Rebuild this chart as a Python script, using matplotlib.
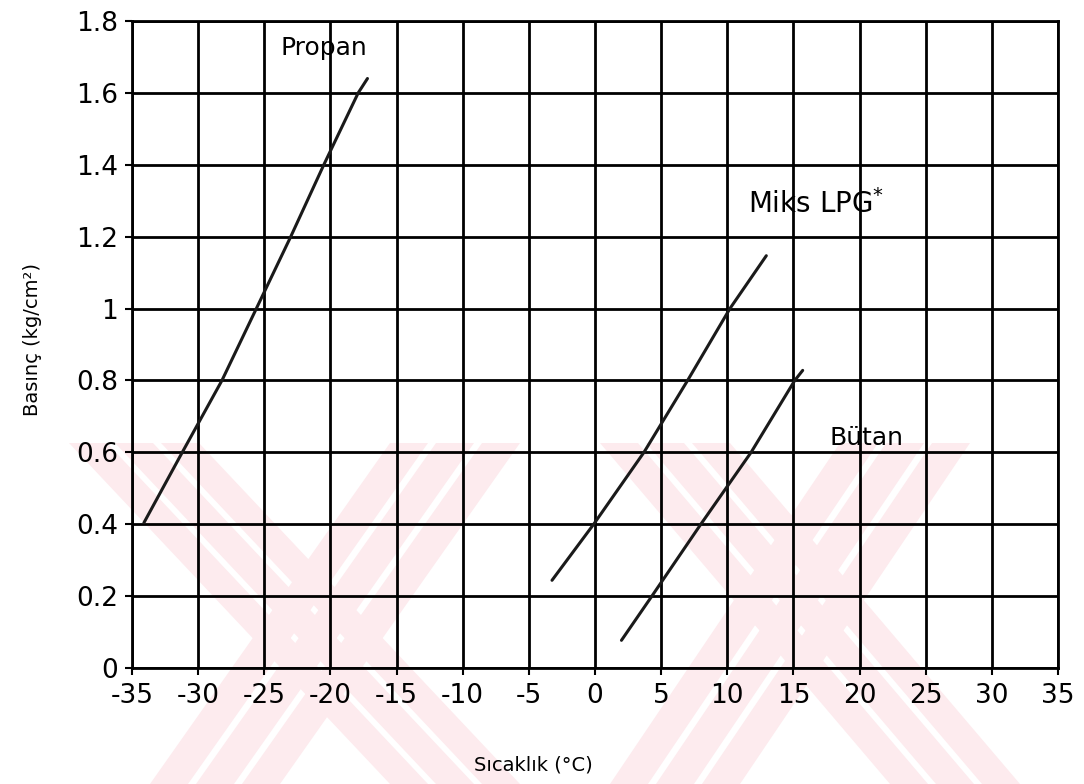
import matplotlib
matplotlib.use("Agg")
import matplotlib.pyplot as plt
from matplotlib.patches import Polygon

plt.rcParams['font.family'] = ['DejaVu Sans']
plt.rcParams['axes.unicode_minus'] = False

# sıcaklık (°C) - basınç (kg/cm2) okunan noktalar
propan_t = [-34.1, -31.2, -28.2, -25.6, -23.0, -20.5, -17.9, -17.2]
propan_p = [0.404, 0.60, 0.80, 1.00, 1.20, 1.40, 1.60, 1.64]

miks_t = [-3.25, -0.1, 3.7, 7.0, 10.2, 12.95]
miks_p = [0.244, 0.40, 0.60, 0.80, 1.00, 1.147]

butan_t = [2.0, 4.3, 8.0, 11.8, 15.1, 15.7]
butan_p = [0.077, 0.20, 0.40, 0.60, 0.80, 0.828]

x_ticks = list(range(-35, 36, 5))
x_labels = ['-35', '-30', '-25', '-20', '-15', '-10', '-5', '0', '5', '10', '15', '20', '25', '30', '35']
y_ticks = [0, 0.2, 0.4, 0.6, 0.8, 1.0, 1.2, 1.4, 1.6, 1.8]
y_labels = ['0', '0.2', '0.4', '0.6', '0.8', '1', '1.2', '1.4', '1.6', '1.8']

W, H = 1084, 784
fig = plt.figure(figsize=(W / 100, H / 100), dpi=100)

# soluk pembe filigran (piksel koordinatlari -> figur)
def band(x_top, x_bot, width):
    y0, y1 = 443, 784
    pts = [(x_top, y0), (x_top + width, y0), (x_bot + width, y1), (x_bot, y1)]
    return [(px / W, 1 - py / H) for px, py in pts]

pink = '#fdebee'
strokes = [(69, 390), (390, 150), (600, 890), (840, 610)]
for xt, xb in strokes:
    for k in range(3):
        off = k * 46
        fig.add_artist(Polygon(band(xt + off, xb + off, 38), closed=True,
                               transform=fig.transFigure, facecolor=pink,
                               edgecolor='none', zorder=0))

ax = fig.add_axes([132 / W, 1 - 668 / H, 926 / W, 647 / H])
ax.patch.set_alpha(0)

ax.plot(propan_t, propan_p, color='#1a1a1a', lw=2.2, solid_capstyle='round')
ax.plot(miks_t, miks_p, color='#1a1a1a', lw=2.2, solid_capstyle='round')
ax.plot(butan_t, butan_p, color='#1a1a1a', lw=2.2, solid_capstyle='round')

ax.text(-23.75, 1.725, 'Propan', fontsize=18, va='center', ha='left')
ax.text(11.6, 1.29, 'Miks LPG$^{*}$', fontsize=20, va='center', ha='left')
ax.text(17.7, 0.64, 'Bütan', fontsize=18, va='center', ha='left')

ax.set_xlim(-35, 35)
ax.set_ylim(0, 1.8)
ax.set_xticks(x_ticks)
ax.set_xticklabels(x_labels)
ax.set_yticks(y_ticks)
ax.set_yticklabels(y_labels)
ax.grid(True, color='black', lw=2.0)
for s in ax.spines.values():
    s.set_linewidth(2.0)
    s.set_color('black')
ax.tick_params(axis='both', length=5, width=1.5, labelsize=19, colors='black')
ax.tick_params(axis='x', pad=6)
ax.tick_params(axis='y', pad=5)

ax.set_xlabel('Sıcaklık (°C)', fontsize=14)
ax.xaxis.set_label_coords(0.433, -0.135)
ax.set_ylabel('Basınç (kg/cm²)', fontsize=14)
ax.yaxis.set_label_coords(-0.097, 0.507)

fig.savefig('out.png', dpi=100)
